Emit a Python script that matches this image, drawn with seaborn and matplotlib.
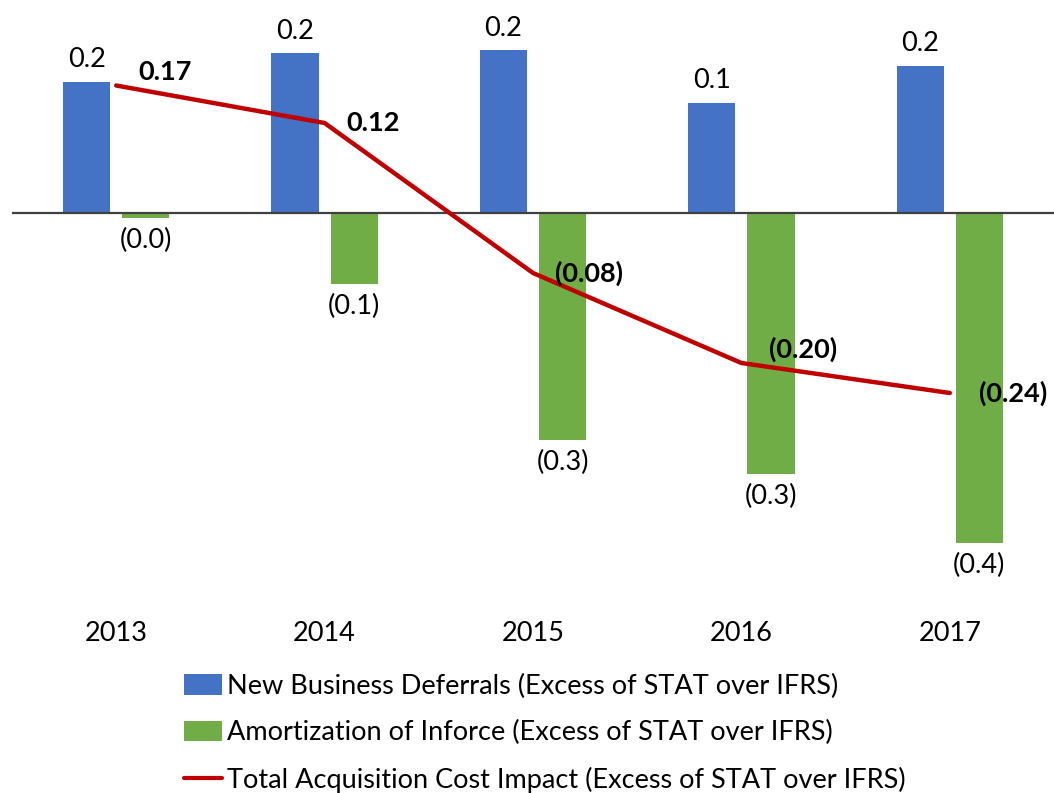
import numpy as np
import pandas as pd
import matplotlib
matplotlib.use("Agg")
import matplotlib.pyplot as plt
import seaborn as sns
from matplotlib.patches import Patch
from matplotlib.lines import Line2D

# Acquisition cost components by year
years = ["2013", "2014", "2015", "2016", "2017"]
new_business = [0.175, 0.213, 0.217, 0.147, 0.196]
amortization = [-0.007, -0.095, -0.303, -0.348, -0.440]
total_impact = [0.17, 0.12, -0.08, -0.20, -0.24]
series_names = [
    "New Business Deferrals (Excess of STAT over IFRS)",
    "Amortization of Inforce (Excess of STAT over IFRS)",
    "Total Acquisition Cost Impact (Excess of STAT over IFRS)",
]

BLUE = "#4472C4"
GREEN = "#70AD47"
RED = "#C00000"
FS = 19.5

sns.set_theme(style="white")
plt.rcParams["font.family"] = ["Lato", "DejaVu Sans"]
plt.rcParams["text.color"] = "black"

W, H = 1054, 793
fig = plt.figure(figsize=(W / 100, H / 100), dpi=100)
ax = fig.add_axes([12 / W, 1 - 600 / H, 1042 / W, 600 / H])

df = pd.DataFrame({
    "year": years * 2,
    "value": new_business + amortization,
    "series": [series_names[0]] * len(years) + [series_names[1]] * len(years),
})

sns.barplot(data=df, x="year", y="value", hue="series",
            palette=[BLUE, GREEN], saturation=1, width=0.567, gap=0.2,
            linewidth=0, legend=False, ax=ax, zorder=2)


def fmt_bar(v):
    return f"{v:.1f}" if v >= 0 else f"({abs(v):.1f})"


for cont, vals in zip(ax.containers, [new_business, amortization]):
    ax.bar_label(cont, labels=[fmt_bar(v) for v in vals], padding=7,
                 fontsize=FS, color="black")

x_pos = np.arange(len(years))
sns.lineplot(x=x_pos, y=total_impact, color=RED, linewidth=3.2, ax=ax,
             zorder=4, legend=False)


def fmt_total(v):
    return f"{v:.2f}" if v >= 0 else f"({abs(v):.2f})"


# label offsets (points) relative to each line vertex
label_offsets = [(16, 10), (16, 0), (16, 0), (20, 10), (21, 0)]
for xi, v, off in zip(x_pos, total_impact, label_offsets):
    ax.annotate(fmt_total(v), (xi, v), xytext=off, textcoords="offset points",
                ha="left", va="center", fontsize=FS, fontweight="bold",
                color="black", zorder=5)

ax.axhline(0, color="#404040", lw=1.6, zorder=3)

ax.set_xlim(-0.5, 4.5)
ax.set_ylim(-0.516, 0.284)
ax.set_yticks([])
ax.set_xlabel("")
ax.set_ylabel("")
ax.tick_params(axis="x", length=0, pad=15, labelsize=FS, labelcolor="black")
for s in ax.spines.values():
    s.set_visible(False)

handles = [
    Patch(facecolor=BLUE, edgecolor="none"),
    Patch(facecolor=GREEN, edgecolor="none"),
    Line2D([0], [0], color=RED, lw=3),
]
fig.legend(handles, series_names, loc="upper left",
           bbox_to_anchor=(184 / W, 1 - 674 / H), frameon=False,
           fontsize=FS, handlelength=1.4, handleheight=0.8,
           handletextpad=0.2, labelspacing=0.78, borderaxespad=0,
           borderpad=0)

fig.savefig("out.png", dpi=100)
